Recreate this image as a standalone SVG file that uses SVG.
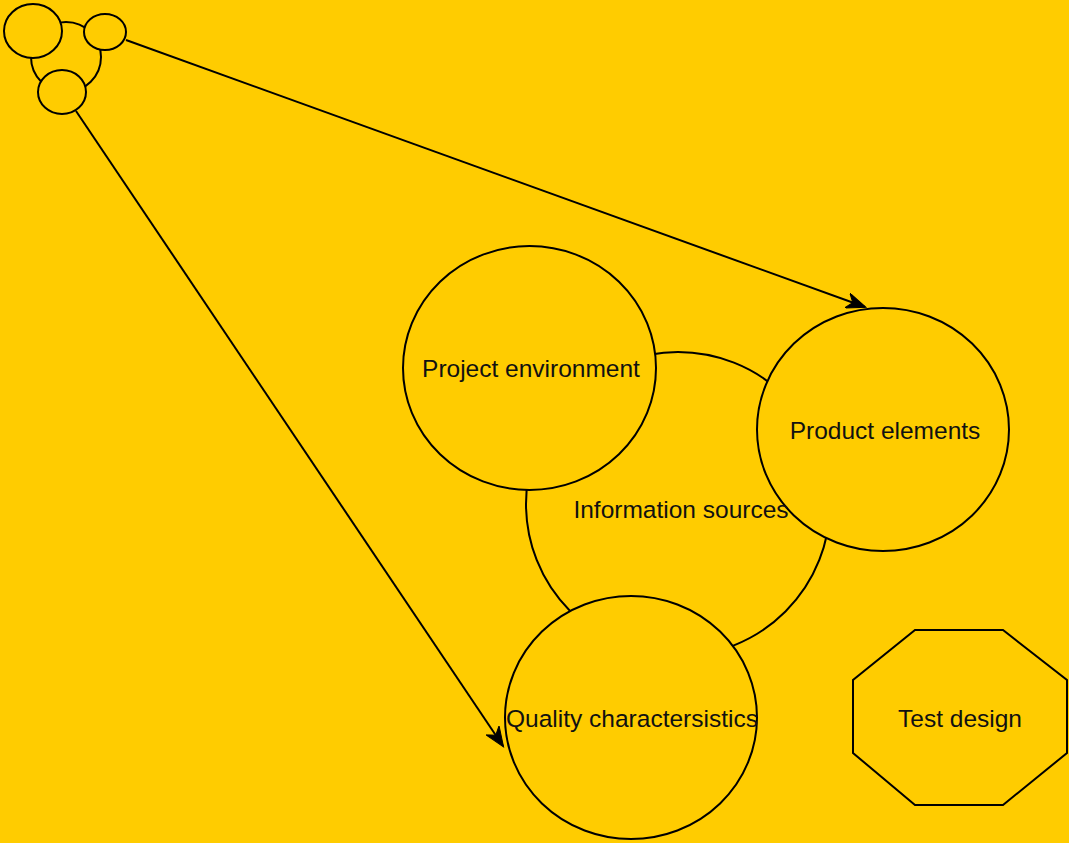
<svg xmlns="http://www.w3.org/2000/svg" width="1069" height="843" viewBox="0 0 1069 843">
<defs>
<style>
.s{fill:#FFCC00;stroke:#000;stroke-width:2}
.t{font-family:"Liberation Sans",Arial,sans-serif;font-size:24.5px;fill:#111;text-anchor:middle}
.c{fill:none;stroke:#000;stroke-width:2}
</style>
<marker id="ah" markerUnits="userSpaceOnUse" markerWidth="22" markerHeight="16" refX="19" refY="8" orient="auto" viewBox="0 0 22 16">
<path d="M0,0 L20,8 L0,16 L6,8 Z" fill="#000" stroke="#000" stroke-width="1"/>
</marker>
</defs>
<rect width="1069" height="843" fill="#FFCC00"/>
<g id="icon">
<circle class="s" cx="66" cy="57" r="35"/>
<ellipse class="s" cx="33" cy="31" rx="29" ry="27"/>
<ellipse class="s" cx="105" cy="32" rx="21" ry="18"/>
<ellipse class="s" cx="62" cy="92" rx="24" ry="22"/>
</g>
<g id="information-sources">
<circle class="s" cx="678" cy="504" r="152"/>
</g>
<g id="project-environment">
<ellipse class="s" cx="529.5" cy="368" rx="126.5" ry="122"/>
<text class="t" x="531" y="377">Project environment</text>
</g>
<g id="product-elements">
<ellipse class="s" cx="883" cy="429.5" rx="126" ry="121.5"/>
<text class="t" x="885" y="439">Product elements</text>
</g>
<g id="quality-characteristics">
<ellipse class="s" cx="631" cy="717.5" rx="126" ry="121.5"/>
<text class="t" x="632" y="727">Quality charactersistics</text>
</g>
<g id="information-sources-label">
<text class="t" x="681" y="518">Information sources</text>
</g>
<g id="test-design">
<polygon class="s" points="915,630 1003,630 1067,680 1067,753 1003,805 915,805 853,753 853,680"/>
<text class="t" x="960" y="727">Test design</text>
</g>
<g id="connectors">
<line class="c" x1="126" y1="40" x2="865" y2="307" marker-end="url(#ah)"/>
<line class="c" x1="76" y1="111" x2="503" y2="746" marker-end="url(#ah)"/>
</g>
</svg>
